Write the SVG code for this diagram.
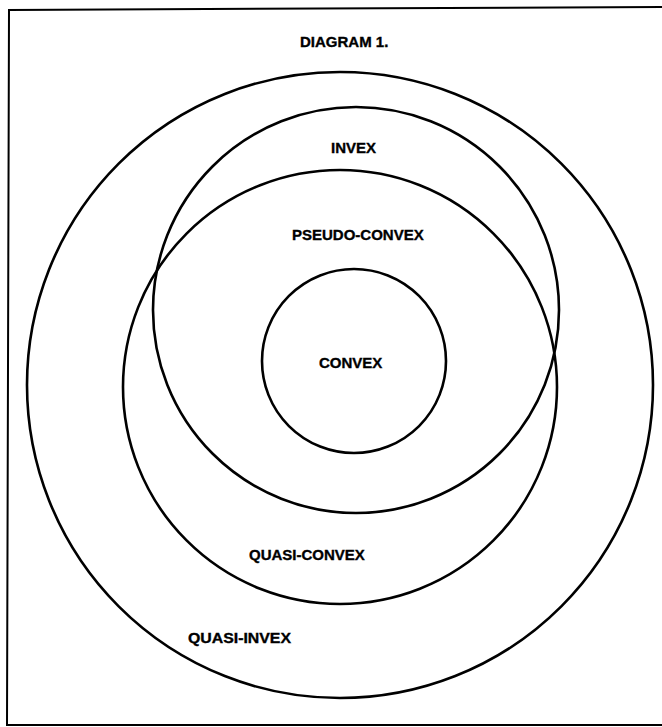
<svg xmlns="http://www.w3.org/2000/svg" width="662" height="727" viewBox="0 0 662 727">
<style>
.ring{fill:none;stroke:#000;stroke-width:2.6}
.lbl{font-family:"Liberation Sans",Arial,sans-serif;font-weight:bold;font-size:15px;fill:#000;stroke:#000;stroke-width:0.35}
.frame{fill:none;stroke:#000;stroke-width:2}
</style>
<rect width="662" height="727" fill="#fff"/>
<path class="frame" d="M662,7 L9,10 L7,725 L662,725"/>
<text class="lbl" x="300" y="47">DIAGRAM 1.</text>
<g id="quasi-invex">
<circle class="ring" cx="340" cy="385" r="313"/>
<text class="lbl" x="188" y="643" textLength="103" lengthAdjust="spacingAndGlyphs">QUASI-INVEX</text>
</g>
<g id="invex">
<circle class="ring" cx="356" cy="310" r="203"/>
<text class="lbl" x="331" y="153">INVEX</text>
</g>
<g id="quasi-convex">
<circle class="ring" cx="340" cy="387" r="217"/>
<text class="lbl" x="249" y="560">QUASI-CONVEX</text>
</g>
<g id="pseudo-convex">
<text class="lbl" x="292" y="240">PSEUDO-CONVEX</text>
</g>
<g id="convex">
<circle class="ring" cx="354" cy="361" r="92"/>
<text class="lbl" x="319" y="368">CONVEX</text>
</g>
</svg>
